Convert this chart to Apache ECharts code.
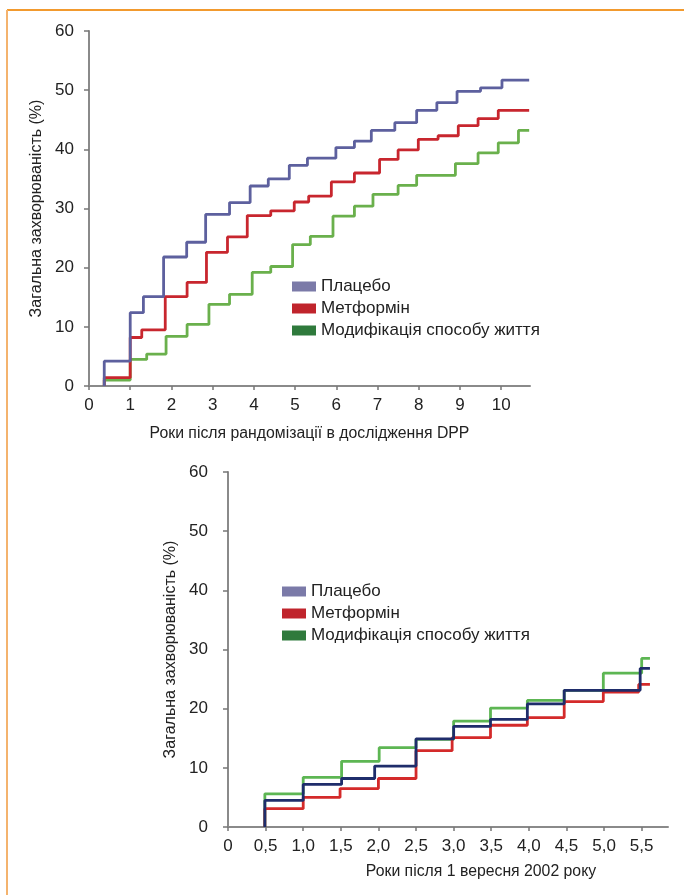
<!DOCTYPE html>
<html>
<head>
<meta charset="utf-8">
<script src="https://cdn.jsdelivr.net/npm/echarts@6/dist/echarts.min.js"></script>
<style>
  html, body { margin: 0; padding: 0; background: #fff; }
  #chart { width: 684px; height: 895px; }
</style>
</head>
<body>
<div id="chart"></div>
<script>
// верхній графік: роки після рандомізації (моменти кроків) і рівні після кроку
const topPlaceboX = [0.37, 1.0, 1.32, 1.81, 2.37, 2.83, 3.41, 3.91, 4.35, 4.86, 5.3, 5.99, 6.44, 6.85, 7.42, 7.95, 8.44, 8.93, 9.5, 10.02, 10.68];
const topPlaceboY = [4.2, 12.4, 15.1, 21.8, 24.3, 29.0, 31.0, 33.8, 35.0, 37.3, 38.5, 40.3, 41.4, 43.2, 44.5, 46.6, 47.9, 49.8, 50.4, 51.7, 51.7];
const topMetforminX = [0.37, 1.0, 1.28, 1.85, 2.38, 2.85, 3.36, 3.84, 4.41, 4.98, 5.33, 5.88, 6.44, 7.05, 7.5, 7.99, 8.47, 8.96, 9.44, 9.93, 10.68];
const topMetforminY = [1.4, 8.2, 9.5, 15.1, 17.5, 22.6, 25.2, 28.8, 29.6, 31.1, 32.1, 34.5, 36.0, 38.3, 39.9, 41.7, 42.3, 44.0, 45.2, 46.6, 46.6];
const topLifestyleX = [0.37, 1.0, 1.4, 1.87, 2.38, 2.91, 3.41, 3.96, 4.41, 4.94, 5.37, 5.92, 6.44, 6.89, 7.5, 7.95, 8.89, 9.44, 9.93, 10.42, 10.68];
const topLifestyleY = [1.0, 4.5, 5.4, 8.4, 10.4, 13.8, 15.5, 19.2, 20.2, 23.9, 25.3, 28.7, 30.4, 32.4, 33.9, 35.6, 37.6, 39.4, 41.1, 43.2, 43.2];

// нижній графік: роки після 1 вересня 2002
const botPlaceboX = [0.49, 1.0, 1.51, 1.95, 2.5, 3.0, 3.49, 3.98, 4.47, 5.48, 5.61];
const botPlaceboY = [4.5, 7.2, 8.2, 10.3, 14.9, 17.0, 18.2, 20.8, 23.1, 26.8, 26.8];
const botMetforminX = [0.49, 1.0, 1.49, 2.0, 2.5, 2.98, 3.49, 3.98, 4.47, 4.99, 5.46, 5.61];
const botMetforminY = [3.1, 5.0, 6.5, 8.2, 12.9, 15.1, 17.2, 18.5, 21.2, 22.8, 24.1, 24.1];
const botLifestyleX = [0.49, 1.0, 1.51, 2.01, 2.5, 3.0, 3.49, 3.98, 4.47, 4.99, 5.5, 5.61];
const botLifestyleY = [5.6, 8.4, 11.1, 13.4, 14.8, 17.9, 20.1, 21.4, 23.1, 26.0, 28.5, 28.5];

const names = ['Плацебо', 'Метформін', 'Модифікація способу життя'];
const topXTicks = [0, 1, 2, 3, 4, 5, 6, 7, 8, 9, 10];
const botXTicks = [0, 0.5, 1, 1.5, 2, 2.5, 3, 3.5, 4, 4.5, 5, 5.5];

const FONT = '"Liberation Sans", sans-serif';
const legendColors = ['#7b7aa8', '#c0242c', '#2f7a3c'];

// крокова крива починається з нуля
function steps(xs, ys) {
  const d = [[xs[0], 0]];
  xs.forEach((x, i) => d.push([x, ys[i]]));
  return d;
}

function xAxisCfg(grid, max, ticks, interval, name, fmt, namePad, gap) {
  return {
    type: 'value', gridIndex: grid, min: 0, max: max, interval: interval,
    name: name, nameLocation: 'middle', nameGap: gap,
    nameTextStyle: { fontFamily: FONT, fontSize: 15.8, color: '#222', padding: namePad },
    axisLine: { lineStyle: { color: '#8a8a8a', width: 2 } },
    axisTick: { customValues: ticks, length: 4, lineStyle: { color: '#777', width: 1.5 } },
    axisLabel: { customValues: ticks, margin: 11, fontFamily: FONT, fontSize: 17, color: '#222', formatter: fmt },
    splitLine: { show: false }
  };
}

function yAxisCfg(grid, margin, gap) {
  return {
    type: 'value', gridIndex: grid, min: 0, max: 60, interval: 10,
    name: 'Загальна захворюваність (%)', nameLocation: 'middle', nameGap: gap,
    nameTextStyle: { fontFamily: FONT, fontSize: 16, color: '#222' },
    axisLine: { show: true, lineStyle: { color: '#8a8a8a', width: 2 } },
    axisTick: { show: true, length: 5, lineStyle: { color: '#777', width: 1.5 } },
    axisLabel: { margin: margin, fontFamily: FONT, fontSize: 17, color: '#222' },
    splitLine: { show: false }
  };
}

function line(name, xi, data, color, z) {
  return {
    name: name, type: 'line', step: 'end', xAxisIndex: xi, yAxisIndex: xi,
    data: data, symbol: 'none', z: z,
    lineStyle: { color: color, width: 2.8 },
    itemStyle: { color: color }
  };
}

function legendCfg(left, top) {
  return {
    orient: 'vertical', left: left, top: top, padding: 0,
    itemWidth: 24, itemHeight: 10, itemGap: 5,
    icon: 'rect', selectedMode: false,
    textStyle: { fontFamily: FONT, fontSize: 17, color: '#222' },
    data: names.map((n, i) => ({ name: n, itemStyle: { color: legendColors[i] } }))
  };
}

const chart = echarts.init(document.getElementById('chart'));
chart.setOption({
  backgroundColor: '#fff',
  animation: false,
  graphic: [
    { type: 'line', shape: { x1: 7, y1: 10, x2: 684, y2: 10 }, style: { stroke: '#f29a2e', lineWidth: 2 } },
    { type: 'line', shape: { x1: 7, y1: 10, x2: 7, y2: 895 }, style: { stroke: '#f4b36e', lineWidth: 2 } }
  ],
  legend: [legendCfg(292, 278), legendCfg(282, 583)],
  grid: [
    { left: 89, top: 31, width: 441, height: 355 },
    { left: 228, top: 472, width: 440, height: 355 }
  ],
  xAxis: [
    xAxisCfg(0, 10.7, topXTicks, 1, 'Роки після рандомізації в дослідження DPP', v => String(v), 0, 40),
    xAxisCfg(1, 5.85, botXTicks, 0.5, 'Роки після 1 вересня 2002 року',
      v => v === 0 ? '0' : v.toFixed(1).replace('.', ','), [0, 0, 0, 66], 37)
  ],
  yAxis: [yAxisCfg(0, 15, 41), yAxisCfg(1, 20, 39)],
  series: [
    line(names[2], 0, steps(topLifestyleX, topLifestyleY), '#6ab04c', 2),
    line(names[1], 0, steps(topMetforminX, topMetforminY), '#c8262e', 3),
    line(names[0], 0, steps(topPlaceboX, topPlaceboY), '#5d609e', 4),
    line(names[2], 1, steps(botLifestyleX, botLifestyleY), '#5db653', 2),
    line(names[1], 1, steps(botMetforminX, botMetforminY), '#d42a2a', 3),
    line(names[0], 1, steps(botPlaceboX, botPlaceboY), '#1f2d6b', 4)
  ]
});
</script>
</body>
</html>
